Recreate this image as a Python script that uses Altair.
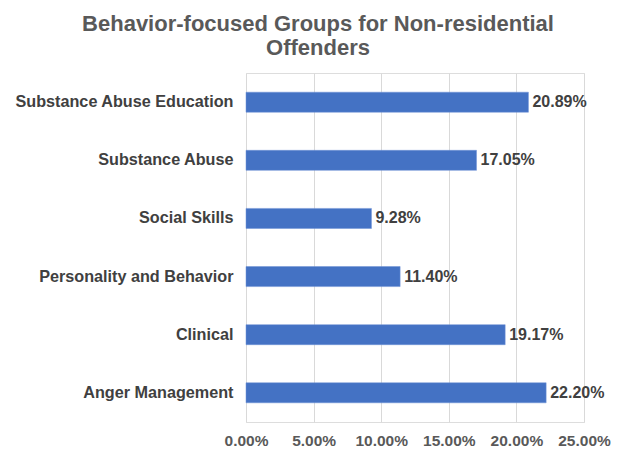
import altair as alt
import pandas as pd

categories = ["Substance Abuse Education", "Substance Abuse", "Social Skills",
              "Personality and Behavior", "Clinical", "Anger Management"]
values = [0.2089, 0.1705, 0.0928, 0.1140, 0.1917, 0.2220]
tick_values = [0.0, 0.05, 0.10, 0.15, 0.20, 0.25]

df = pd.DataFrame({"category": categories, "value": values})

FONT = "Liberation Sans"

base = alt.Chart(df).encode(
    y=alt.Y("category:N", sort=categories,
            scale=alt.Scale(paddingInner=0.655, paddingOuter=0.33),
            axis=alt.Axis(title=None, domain=False, ticks=False, labelPadding=13,
                          labelLimit=400,
                          labelFont=FONT, labelFontSize=16.2, labelFontWeight="bold",
                          labelColor="#404040")),
    x=alt.X("value:Q", scale=alt.Scale(domain=[0, 0.25], nice=False),
            axis=alt.Axis(title=None, values=tick_values, format=".2%", domain=False,
                          ticks=False, labelPadding=11, labelOverlap=False,
                          labelFlush=False,
                          labelFont=FONT, labelFontSize=15.5,
                          labelFontWeight="bold", labelColor="#595959",
                          grid=True, gridColor="#d9d9d9", gridWidth=1)),
)

bars = base.mark_bar(color="#4472C4", stroke="#6f93d6", strokeWidth=0.5)
labels = base.mark_text(align="left", baseline="middle", dx=4, font=FONT, fontSize=16,
                        fontWeight="bold", color="#404040").encode(
    text=alt.Text("value:Q", format=".2%"))

chart = (bars + labels).properties(
    width=338, height=349,
    autosize=alt.AutoSizeParams(type="none"),
    padding={"left": 238, "top": 65, "right": 28, "bottom": 30},
    title=alt.TitleParams(
        text=["Behavior-focused Groups for Non-residential", "Offenders"],
        font=FONT, fontSize=22, fontWeight="bold", color="#595959",
        anchor="middle", dx=-97, offset=13, lineHeight=24),
).configure_view(stroke=None).configure(background="white")

chart.save("out.html", embed_options={"renderer": "svg", "actions": False})
